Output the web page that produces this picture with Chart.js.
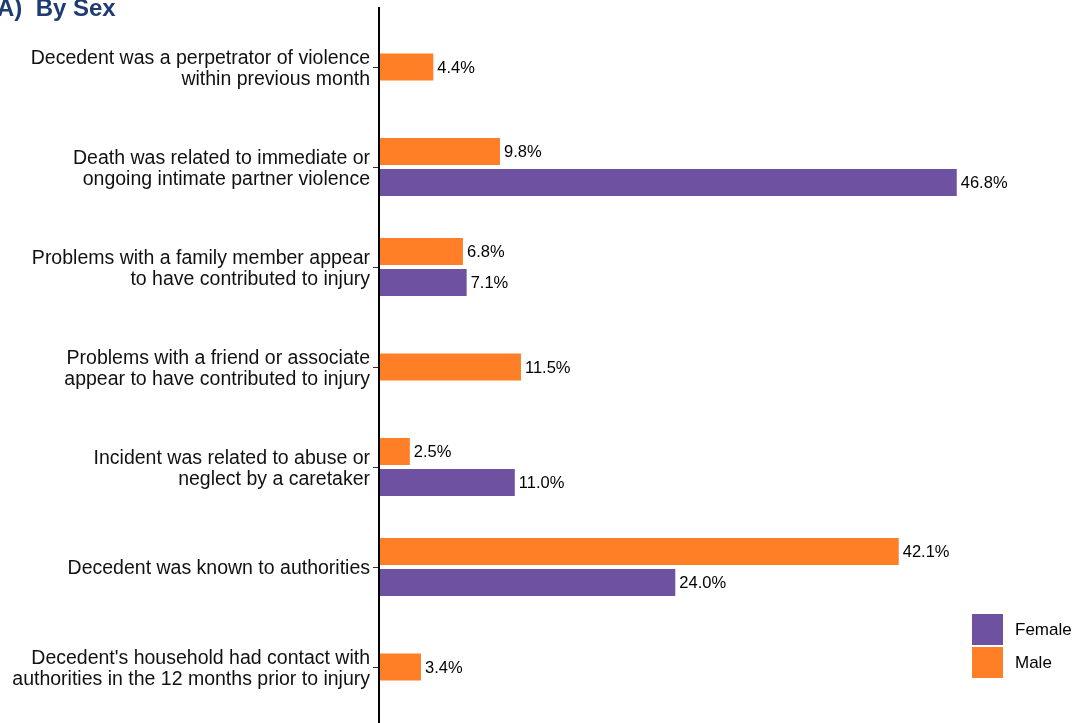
<!DOCTYPE html>
<html>
<head>
<meta charset="utf-8">
<script src="https://cdn.jsdelivr.net/npm/chart.js@4/dist/chart.umd.min.js"></script>
<style>
  body { margin: 0; background: #fff; font-family: Arial, "Liberation Sans", sans-serif; }
  #wrap { position: relative; width: 1073px; height: 723px; overflow: hidden; }
  #barChart { display: block; }
  #title { position: absolute; left: -3px; top: -6px; font-size: 24px; font-weight: bold; color: #1f3b73; }
  #legend { position: absolute; left: 972px; top: 614px; font-size: 17px; color: #000; }
  .item { display: flex; align-items: center; height: 31px; margin-bottom: 2px; }
  .box { width: 31px; height: 31px; margin-right: 12px; }
</style>
</head>
<body>
<div id="wrap">
  <canvas id="barChart" width="1073" height="723"></canvas>
  <div id="title">A)&nbsp; By Sex</div>
  <div id="legend"></div>
</div>
<script>
const categories = [
    ['Decedent was a perpetrator of violence', 'within previous month'],
    ['Death was related to immediate or', 'ongoing intimate partner violence'],
    ['Problems with a family member appear', 'to have contributed to injury'],
    ['Problems with a friend or associate', 'appear to have contributed to injury'],
    ['Incident was related to abuse or', 'neglect by a caretaker'],
    'Decedent was known to authorities',
    ["Decedent's household had contact with", 'authorities in the 12 months prior to injury']
];
const maleValues = [4.4, 9.8, 6.8, 11.5, 2.5, 42.1, 3.4];
const femaleValues = [null, 46.8, 7.1, null, 11.0, 24.0, null];

const maleColor = '#ff7f27';
const femaleColor = '#6f51a1';

// legend shows Female first
let legend = document.getElementById('legend');
[['Female', femaleColor], ['Male', maleColor]].forEach(([name, col]) => {
    legend.innerHTML += '<div class="item"><div class="box" style="background:' + col + '"></div>' + name + '</div>';
});

const valueLabels = {
    id: 'valueLabels',
    afterDatasetsDraw(chart) {
        let ctx = chart.ctx;
        ctx.save();
        // axis line runs the full height in the original
        let yAxis = chart.scales.y;
        ctx.strokeStyle = '#000';
        ctx.lineWidth = 2;
        ctx.beginPath();
        ctx.moveTo(yAxis.right, 7);
        ctx.lineTo(yAxis.right, chart.height);
        ctx.stroke();

        ctx.font = '16.5px Arial, "Liberation Sans"';
        ctx.fillStyle = '#000';
        ctx.textBaseline = 'middle';
        ctx.textAlign = 'left';
        chart.data.datasets.forEach((ds, i) => {
            chart.getDatasetMeta(i).data.forEach((bar, j) => {
                if (ds.data[j] == null) return;
                ctx.fillText(ds.data[j].toFixed(1) + '%', bar.x + 4, bar.y + 1);
            });
        });
        ctx.restore();
    }
};

var ctx = document.getElementById('barChart').getContext('2d');
var myChart = new Chart(ctx, {
    type: 'bar',
    data: {
        labels: categories,
        datasets: [{
            label: 'Male',
            data: maleValues,
            backgroundColor: maleColor
        },
        {
            label: 'Female',
            data: femaleValues,
            backgroundColor: femaleColor
        }]
    },
    options: {
        indexAxis: 'y',
        responsive: false,
        animation: false,
        skipNull: true,
        categoryPercentage: 0.62,
        barPercentage: 0.87,
        maxBarThickness: 27,
        layout: {
            padding: { top: 17, bottom: 6, right: 15, left: 0 }
        },
        scales: {
            x: {
                display: false,
                min: 0,
                max: 55
            },
            y: {
                afterFit: (scale) => {
                    scale.width = 379;
                    scale.paddingTop = 0;
                    scale.paddingBottom = 0;
                },
                grid: {
                    drawOnChartArea: false,
                    drawTicks: true,
                    tickLength: 6,
                    offset: false,
                    color: '#333'
                },
                border: {
                    color: '#000',
                    width: 2
                },
                ticks: {
                    color: '#111',
                    padding: 3,
                    labelOffset: 2,
                    font: {
                        family: 'Arial, "Liberation Sans"',
                        size: 19.5,
                        lineHeight: 1.1
                    }
                }
            }
        },
        plugins: {
            legend: { display: false },
            tooltip: { enabled: false }
        }
    },
    plugins: [valueLabels]
});
</script>
</body>
</html>
